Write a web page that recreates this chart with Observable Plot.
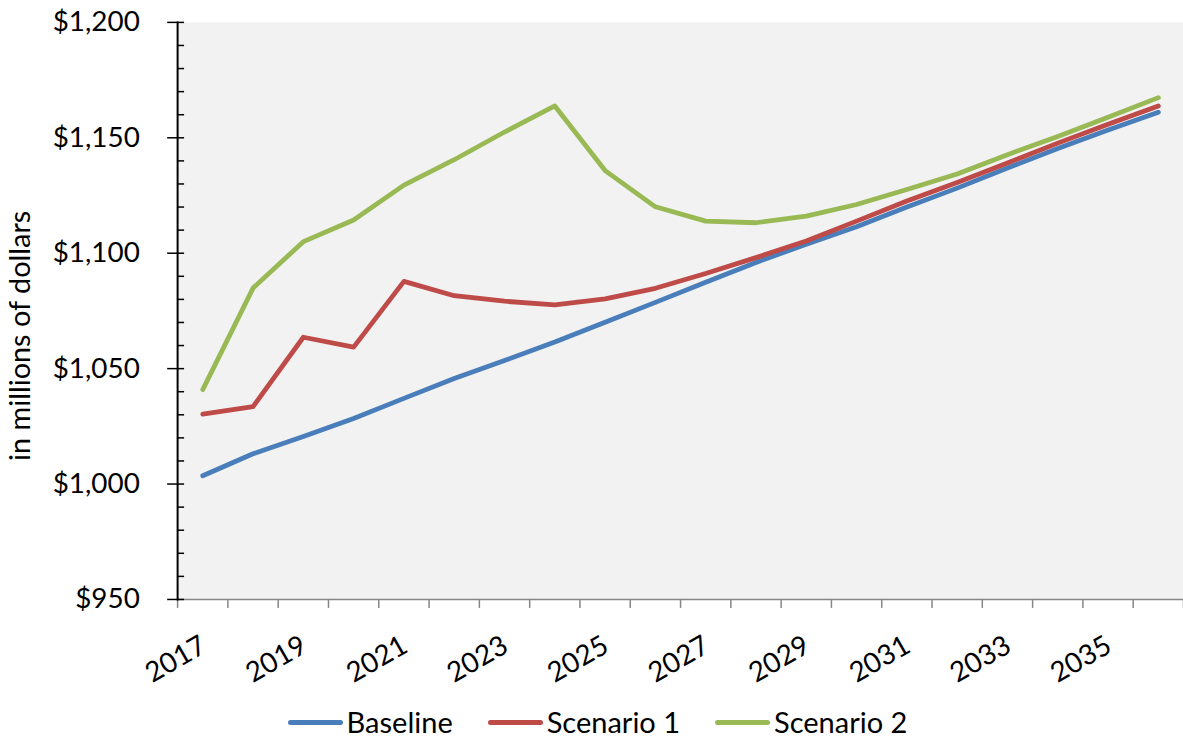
<!DOCTYPE html>
<html>
<head>
<meta charset="utf-8">
<script src="https://cdn.jsdelivr.net/npm/d3@7"></script>
<script src="https://cdn.jsdelivr.net/npm/@observablehq/plot@0.6"></script>
<style>
  html, body { margin: 0; padding: 0; background: #fff; overflow: hidden; }
  body { font-family: Lato, "Open Sans", sans-serif; }
  #legend { width: 1189px; height: 30px; display: flex; justify-content: center; align-items: center; gap: 35px; font-size: 29px; line-height: 30px; color: #000; margin-top: 20px; padding-left: 6px; box-sizing: border-box; }
  #legend .item { display: flex; align-items: center; }
  #legend .sw { width: 55px; height: 5px; border-radius: 3px; margin-right: 4px; margin-top: 2px; }
</style>
</head>
<body>
<div id="chart"></div>
<div id="legend"></div>
<script>
const years = d3.range(2017, 2037);
const seriesNames = ["Baseline", "Scenario 1", "Scenario 2"];
const colors = ["#4a7ebb", "#be4b48", "#98b954"];
const baseline = [1003.6, 1013.1, 1020.6, 1028.4, 1037.1, 1045.7, 1053.5, 1061.5, 1070.1, 1078.7,
                  1087.4, 1096.0, 1103.9, 1111.5, 1120.0, 1128.2, 1136.9, 1145.4, 1153.4, 1161.1];
const scenario1 = [1030.3, 1033.5, 1063.6, 1059.3, 1087.8, 1081.6, 1079.2, 1077.6, 1080.2, 1084.8,
                   1091.2, 1098.1, 1105.3, 1113.9, 1122.6, 1130.6, 1139.1, 1147.7, 1155.9, 1163.8];
const scenario2 = [1040.9, 1084.9, 1105.0, 1114.4, 1129.5, 1140.5, 1152.5, 1163.8, 1135.8, 1120.1,
                   1113.9, 1113.2, 1116.1, 1121.1, 1127.6, 1134.3, 1142.7, 1150.6, 1158.9, 1167.4];
const yTicks = d3.range(950, 1201, 50);
const yMinorTicks = d3.range(950, 1201, 10);
const xLabelYears = d3.range(2017, 2037, 2);
const yLabel = "in millions of dollars";

const values = [baseline, scenario1, scenario2];
const data = seriesNames.flatMap((s, i) => years.map((yr, j) => ({series: s, year: yr, value: values[i][j]})));
const bandEdges = d3.range(years[0] - 0.5, years[years.length - 1] + 1, 1);

const font = "Lato, 'Open Sans', sans-serif";
const chart = Plot.plot({
  width: 1189,
  height: 690,
  marginLeft: 178,
  marginRight: 0,
  marginTop: 22,
  marginBottom: 88,
  style: {fontFamily: font, fontSize: "28px", color: "#000", background: "#fff", overflow: "visible"},
  x: {domain: [years[0] - 0.5, years[years.length - 1] + 0.5]},
  y: {domain: [950, 1200]},
  color: {domain: seriesNames, range: colors},
  marks: [
    Plot.frame({fill: "#f2f2f2", stroke: null}),
    Plot.frame({anchor: "bottom", stroke: "#868686", strokeWidth: 1.5}),
    Plot.axisX(bandEdges, {tickSize: 9, stroke: "#868686", strokeWidth: 1.5, tickFormat: null, text: null, label: null}),
    Plot.axisX(xLabelYears, {tickSize: 0, tickPadding: 44, tickRotate: -30, tickFormat: d => String(d), fontSize: 28, label: null, dx: 1}),
    Plot.axisY(yMinorTicks, {tickSize: -7, strokeWidth: 1.5, text: null, tickFormat: null, label: null}),
    Plot.axisY(yTicks, {tickSize: 10, tickPadding: 28, strokeWidth: 1.5, tickFormat: d3.format("$,.0f"), fontSize: 28, label: null}),
    Plot.frame({anchor: "left", stroke: "#000", strokeWidth: 2}),
    Plot.line(data, {x: "year", y: "value", z: "series", stroke: "series", strokeWidth: 4.8, strokeLinecap: "round", strokeLinejoin: "round"}),
    Plot.text([yLabel], {frameAnchor: "left", rotate: -90, textAnchor: "middle", dx: -158, dy: 25, fontSize: 29, fill: "#000"})
  ]
});
document.getElementById("chart").appendChild(chart);

const legend = d3.select("#legend");
seriesNames.forEach((s, i) => {
  const item = legend.append("div").attr("class", "item");
  item.append("div").attr("class", "sw").style("background", colors[i]);
  item.append("span").text(s);
});
</script>
</body>
</html>
